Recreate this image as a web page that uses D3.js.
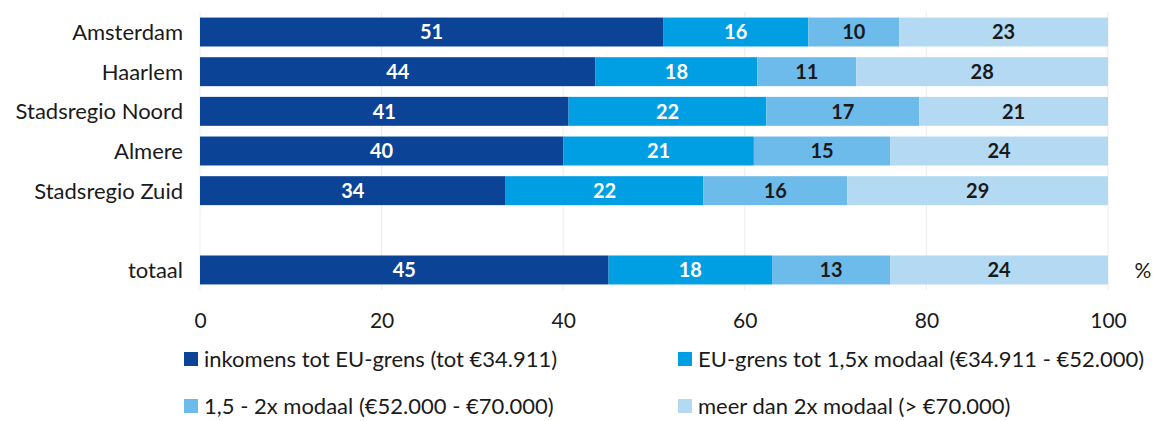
<!DOCTYPE html>
<html>
<head>
<meta charset="utf-8">
<script src="https://cdn.jsdelivr.net/npm/d3@7"></script>
<style>
  body { margin: 0; background: #fff; }
  svg text { font-family: Lato, "Open Sans", sans-serif; }
</style>
</head>
<body>
<script>
// categories (the empty one is a spacer row)
const regions = ["Amsterdam", "Haarlem", "Stadsregio Noord", "Almere", "Stadsregio Zuid", "", "totaal"];
const keys = ["tot", "eu", "mid", "hoog"];
const seriesNames = [
  "inkomens tot EU-grens (tot €34.911)",
  "EU-grens tot 1,5x modaal (€34.911 - €52.000)",
  "1,5 - 2x modaal (€52.000 - €70.000)",
  "meer dan 2x modaal (> €70.000)"
];
const totValues  = [51, 44, 41, 40, 34, null, 45];
const euValues   = [16, 18, 22, 21, 22, null, 18];
const midValues  = [10, 11, 17, 15, 16, null, 13];
const hoogValues = [23, 28, 21, 24, 29, null, 24];
const tickValues = [0, 20, 40, 60, 80, 100];
const colors = ["#0b4497", "#009fe3", "#6dbbea", "#b3d9f3"];

const W = 1153, H = 421;
const margin = { top: 12, right: 45, bottom: 131, left: 200 };
const width = 1108 - margin.left;
const height = 290 - margin.top;

const rows = regions.map((r, i) => ({
  region: r,
  tot: totValues[i], eu: euValues[i], mid: midValues[i], hoog: hoogValues[i]
}));
const dataRows = rows.filter(d => d.region !== "");

// normalise each bar to 100%
const stacked = d3.stack().keys(keys).offset(d3.stackOffsetExpand)(dataRows);

const x = d3.scaleLinear().domain([0, 100]).range([0, width]);
const y = d3.scaleBand().domain(regions).range([0, height]).paddingInner(0.27).paddingOuter(0.14);

const svg = d3.select("body").append("svg")
  .attr("width", W).attr("height", H)
  .append("g")
  .attr("transform", `translate(${margin.left},${margin.top})`);

// light vertical gridlines
svg.append("g").selectAll("line")
  .data(tickValues)
  .join("line")
  .attr("x1", d => x(d)).attr("x2", d => x(d))
  .attr("y1", 0).attr("y2", height)
  .attr("stroke", "#ececec").attr("stroke-width", 1);

const layers = svg.selectAll(".layer")
  .data(stacked)
  .join("g")
  .attr("class", "layer")
  .attr("fill", (d, i) => colors[i]);

layers.selectAll("rect")
  .data(d => d)
  .join("rect")
  .attr("x", d => x(d[0] * 100))
  .attr("width", d => x(d[1] * 100) - x(d[0] * 100))
  .attr("y", d => y(d.data.region))
  .attr("height", y.bandwidth());

layers.each(function (layer, li) {
  d3.select(this).selectAll("text")
    .data(layer)
    .join("text")
    .attr("x", d => x((d[0] + d[1]) / 2 * 100))
    .attr("y", d => y(d.data.region) + y.bandwidth() / 2)
    .attr("dy", "0.36em")
    .attr("text-anchor", "middle")
    .attr("font-size", 20)
    .attr("font-weight", 700)
    .attr("fill", li < 2 ? "#ffffff" : "#1a1a1a")
    .text(d => d.data[layer.key]);
});

// category labels
svg.append("g")
  .attr("transform", "translate(-17,0)")
  .call(d3.axisLeft(y).tickSize(0).tickPadding(0))
  .call(g => g.select(".domain").remove())
  .selectAll("text")
  .attr("font-size", 22)
  .attr("fill", "#1a1a1a")
  .attr("dy", "0.36em");

// x axis
svg.append("g")
  .attr("transform", `translate(0,${height})`)
  .call(d3.axisBottom(x).tickValues(tickValues).tickSize(0))
  .call(g => g.select(".domain").remove())
  .selectAll("text")
  .attr("y", 30)
  .attr("dy", "0.36em")
  .attr("font-size", 21)
  .attr("fill", "#1a1a1a");

svg.append("text")
  .attr("x", x(100) + 35)
  .attr("y", y("totaal") + y.bandwidth() / 2)
  .attr("dy", "0.36em")
  .attr("text-anchor", "middle")
  .attr("font-size", 21)
  .attr("fill", "#1a1a1a")
  .text("%");

// legend
const legendPos = [[184, 359], [678, 359], [184, 406], [678, 406]];
const legend = d3.select("svg").append("g")
  .selectAll("g")
  .data(seriesNames)
  .join("g")
  .attr("transform", (d, i) => `translate(${legendPos[i][0]},${legendPos[i][1]})`);

legend.append("rect")
  .attr("x", 0).attr("y", -7)
  .attr("width", 14).attr("height", 14)
  .attr("fill", (d, i) => colors[i]);

legend.append("text")
  .attr("x", 20)
  .attr("dy", "0.36em")
  .attr("font-size", 22)
  .attr("fill", "#1a1a1a")
  .text(d => d);
</script>
</body>
</html>
